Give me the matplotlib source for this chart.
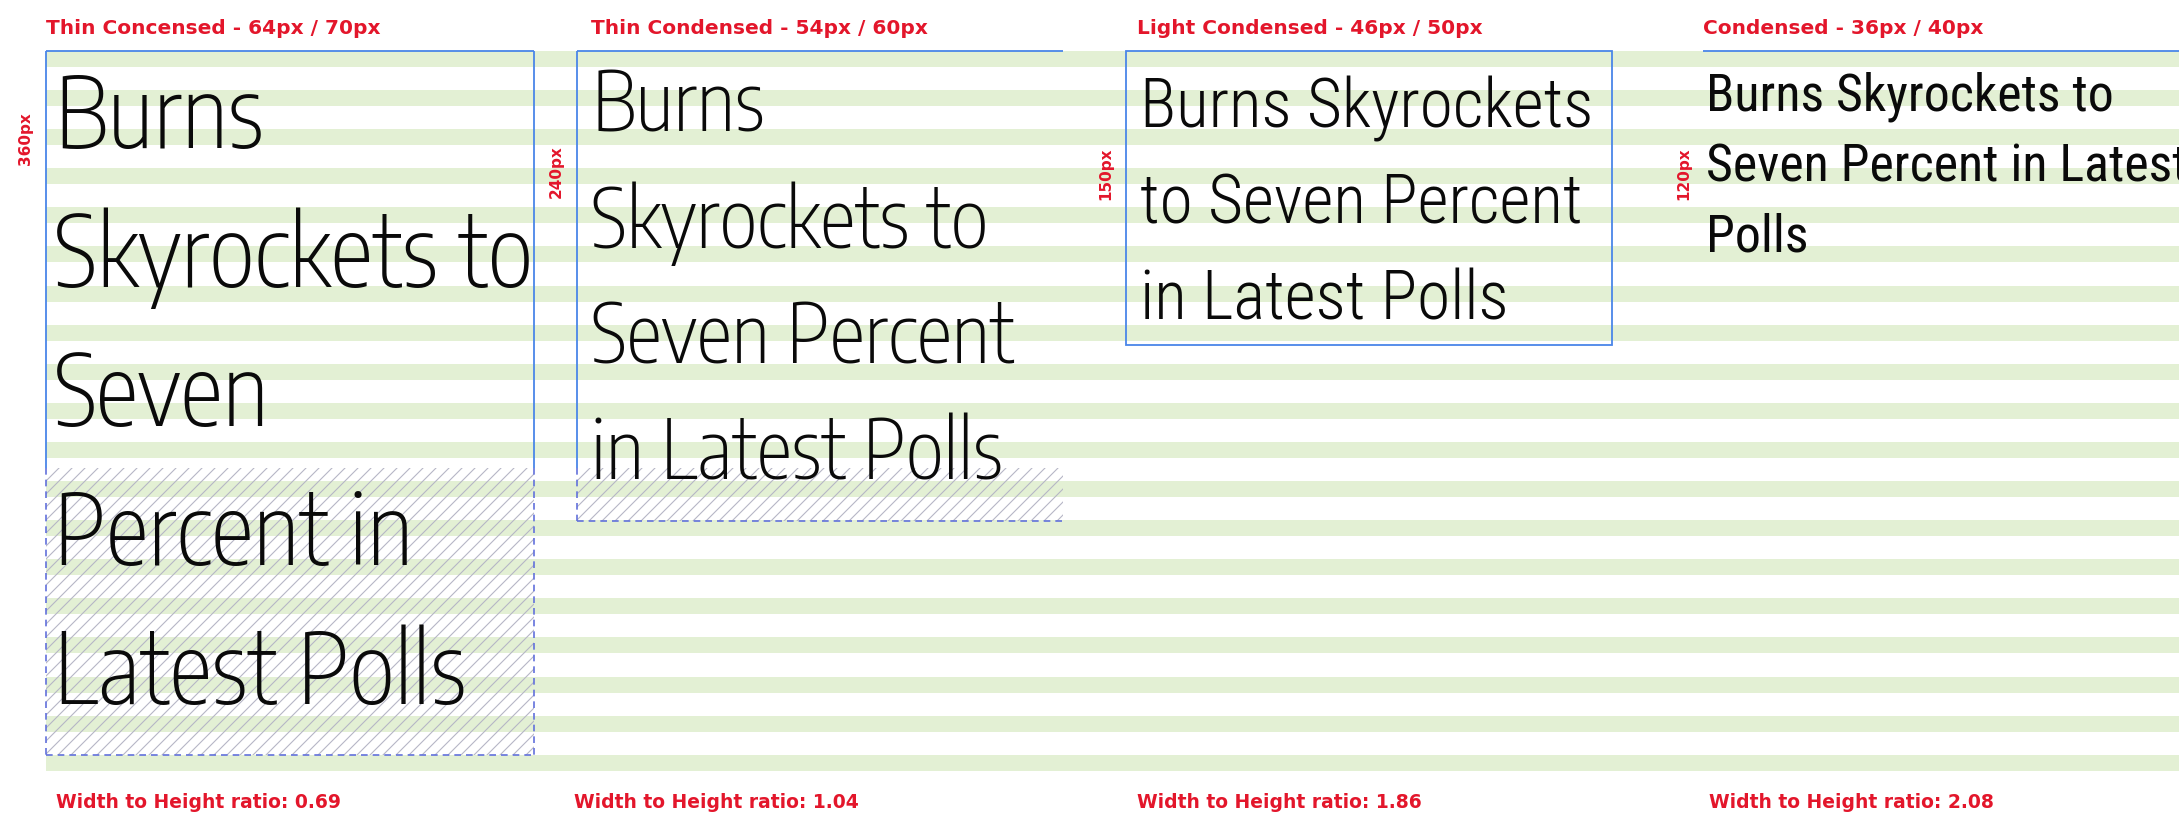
import numpy as np
import matplotlib
matplotlib.use("Agg")
import matplotlib.pyplot as plt
from matplotlib.font_manager import FontProperties
from matplotlib.textpath import TextPath
from matplotlib.patches import Rectangle

W, H, DPI = 2179, 821, 100

# ---- content -------------------------------------------------------------
styles = ["Thin Concensed - 64px / 70px", "Thin Condensed - 54px / 60px",
          "Light Condensed - 46px / 50px", "Condensed - 36px / 40px"]
box_heights = ["360px", "240px", "150px", "120px"]
ratios = ["0.69", "1.04", "1.86", "2.08"]
headlines = [
    ["Burns", "Skyrockets to", "Seven", "Percent in", "Latest Polls"],
    ["Burns", "Skyrockets to", "Seven Percent", "in Latest Polls"],
    ["Burns Skyrockets", "to Seven Percent", "in Latest Polls"],
    ["Burns Skyrockets to", "Seven Percent in Latest", "Polls"],
]
fit_lines = ["Skyrockets to", "Seven Percent", "Burns Skyrockets", "Burns Skyrockets to"]

# ---- layout (pixels, y from top) ----------------------------------------
box_left = [46, 577, 1126, 1703]
box_right = [534, 1063, 1612, 2179]
text_x = [54, 591, 1140, 1706]
header_x = [46, 591, 1137, 1703]
footer_x = [56, 574, 1137, 1709]
side_xy = [(25, 139), (556, 172), (1106, 174), (1684, 174)]
first_base = [148, 132, 128, 111]
line_step = [139, 116, 96, 70]
cap_px = [74, 60, 48, 37]
fit_px = [472, 449, 453, 432]
families = ["Encode Sans Condensed", "Encode Sans Condensed", "Roboto Condensed", "Roboto Condensed"]
weights = [275, 275, 300, 400]

TOP, SOLID_END = 51, 468
P1_BOTTOM, P2_BOTTOM, P3_BOTTOM = 755, 521, 345

RED = "#e3162b"
BLUE = "#4a86e8"
DASH = "#6271dc"
GREEN = "#e3f0d4"
HATCH = "#b6b6c6"

fig = plt.figure(figsize=(W / DPI, H / DPI), dpi=DPI)
ax = fig.add_axes([0, 0, 1, 1])
ax.set_xlim(0, W)
ax.set_ylim(H, 0)
ax.axis("off")

# baseline-grid stripes
band_y = 59 + 39.1 * np.arange(19)
ax.barh(band_y, W - box_left[0], left=box_left[0], height=16, color=GREEN, lw=0, zorder=0)

# overflow areas, hatched with thin diagonal lines
for x0, x1, y1 in [(box_left[0], box_right[0], P1_BOTTOM), (box_left[1], box_right[1], P2_BOTTOM)]:
    clip = Rectangle((x0, SOLID_END), x1 - x0, y1 - SOLID_END, fill=False, lw=0)
    ax.add_patch(clip)
    h = y1 - SOLID_END
    for c in np.arange(x0 - h, x1, 13):
        ln, = ax.plot([c, c + h], [y1, SOLID_END], color=HATCH, lw=0.8, zorder=1)
        ln.set_clip_path(clip)

solid = dict(color=BLUE, lw=1.3, zorder=2, solid_capstyle="butt")
dashed = dict(color=DASH, lw=1.2, ls=(0, (4, 3)), zorder=2)
# panel 1
ax.plot([box_left[0], box_right[0]], [TOP, TOP], **solid)
for x in (box_left[0], box_right[0]):
    ax.plot([x, x], [TOP, SOLID_END], **solid)
    ax.plot([x, x], [SOLID_END, P1_BOTTOM], **dashed)
ax.plot([box_left[0], box_right[0]], [P1_BOTTOM, P1_BOTTOM], **dashed)
# panel 2
ax.plot([box_left[1], box_right[1]], [TOP, TOP], **solid)
ax.plot([box_left[1], box_left[1]], [TOP, SOLID_END], **solid)
ax.plot([box_left[1], box_left[1]], [SOLID_END, P2_BOTTOM], **dashed)
ax.plot([box_left[1], box_right[1]], [P2_BOTTOM, P2_BOTTOM], **dashed)
# panel 3
ax.add_patch(Rectangle((box_left[2], TOP), box_right[2] - box_left[2], P3_BOTTOM - TOP,
                       fill=False, edgecolor=BLUE, lw=1.3, zorder=2))
# panel 4
ax.plot([box_left[3], box_right[3]], [TOP, TOP], **solid)

label_fp = FontProperties(family="DejaVu Sans", weight="bold", size=14.5)
foot_fp = FontProperties(family="DejaVu Sans", weight="bold", size=13.5)
side_fp = FontProperties(family="DejaVu Sans", weight="bold", size=11)

for i in range(4):
    fp = FontProperties(family=families[i], weight=weights[i], stretch="condensed")
    cap = TextPath((0, 0), "H", size=1, prop=fp).get_extents().height
    wid = TextPath((0, 0), fit_lines[i], size=1, prop=fp).get_extents().width
    px = min(cap_px[i] / cap, fit_px[i] / wid)
    fp.set_size(px * 72 / DPI)
    for k, line in enumerate(headlines[i]):
        ax.text(text_x[i], first_base[i] + k * line_step[i], line, fontproperties=fp,
                color="#0a0a0a", va="baseline", ha="left", zorder=3)
    ax.text(header_x[i], 28, styles[i], fontproperties=label_fp, color=RED,
            va="center", ha="left", zorder=3)
    ax.text(side_xy[i][0], side_xy[i][1], box_heights[i], fontproperties=side_fp, color=RED,
            rotation=90, va="center", ha="center", zorder=3)
    ax.text(footer_x[i], 803, f"Width to Height ratio: {ratios[i]}", fontproperties=foot_fp,
            color=RED, va="center", ha="left", zorder=3)

fig.savefig("out.png", dpi=DPI)
